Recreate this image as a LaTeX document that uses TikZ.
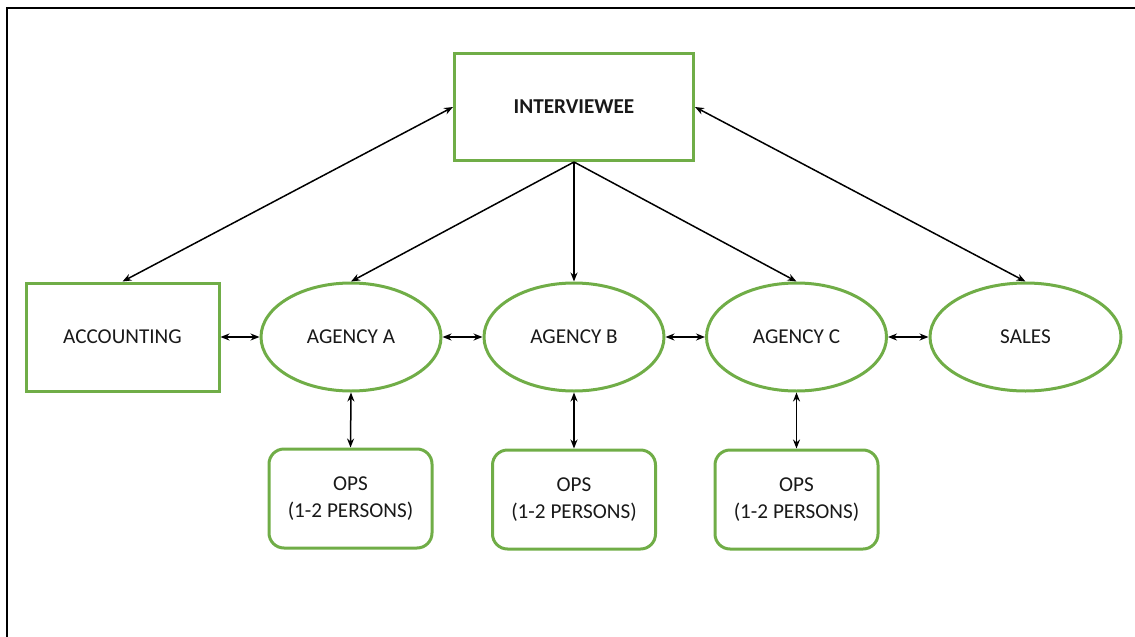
\documentclass[tikz,border=0pt]{standalone}
\usepackage{fontspec}
\setmainfont{Carlito}
\usetikzlibrary{shapes.geometric,arrows.meta}
\definecolor{leaf}{RGB}{112,173,71}
\begin{document}
\begin{tikzpicture}[x=1pt,y=-1pt,
  every node/.style={font=\fontsize{21.2}{27.5}\selectfont, text=black!90, inner sep=0pt},
  sqbox/.style={draw=leaf, line width=3pt, rectangle, minimum width=#1},
  oval/.style={draw=leaf, line width=3pt, ellipse, minimum height=108pt, minimum width=#1},
  opsbox/.style={draw=leaf, line width=3pt, rectangle, rounded corners=15pt,
                 minimum width=163pt, minimum height=99pt, align=center},
  link/.style={line width=1.5pt, -{Stealth[length=9pt,width=7pt]}},
  both/.style={line width=1.5pt, {Stealth[length=9pt,width=7pt]}-{Stealth[length=9pt,width=7pt]}}]
  \useasboundingbox (0,0) rectangle (1135,637);
  % page frame
  \draw[line width=2pt] (7,660) -- (7,8) -- (1160,8);

  % top
  \node[sqbox=239pt, minimum height=107pt, font=\fontsize{21.2}{27.5}\selectfont\bfseries] (iv) at (574,107) {INTERVIEWEE};

  % middle row
  \node[sqbox=193pt, minimum height=108pt] (acc) at (122.5,337) {ACCOUNTING};
  \node[oval=180pt] (aa) at (351,337) {AGENCY A};
  \node[oval=180pt] (ab) at (574,337) {AGENCY B};
  \node[oval=180pt] (ac) at (796.5,337) {AGENCY C};
  \node[oval=191pt] (sa) at (1025.5,337) {SALES};

  % bottom row
  \node[opsbox] (oa) at (350.5,498.5) {OPS\\(1-2 PERSONS)};
  \node[opsbox] (ob) at (574,499.5) {OPS\\(1-2 PERSONS)};
  \node[opsbox] (oc) at (796.5,499.5) {OPS\\(1-2 PERSONS)};

  % connectors from the top box
  \draw[both] (iv.west) -- (acc.north);
  \draw[both] (iv.east) -- (sa.north);
  \draw[link] (iv.south) -- (aa.north);
  \draw[link] (iv.south) -- (ab.north);
  \draw[link] (iv.south) -- (ac.north);

  % row links
  \draw[both] (acc.east) -- (aa.west);
  \draw[both] (aa.east) -- (ab.west);
  \draw[both] (ab.east) -- (ac.west);
  \draw[both] (ac.east) -- (sa.west);

  % agencies to ops
  \draw[both] (aa.south) -- (oa.north);
  \draw[both] (ab.south) -- (ob.north);
  \draw[both] (ac.south) -- (oc.north);
\end{tikzpicture}
\end{document}
